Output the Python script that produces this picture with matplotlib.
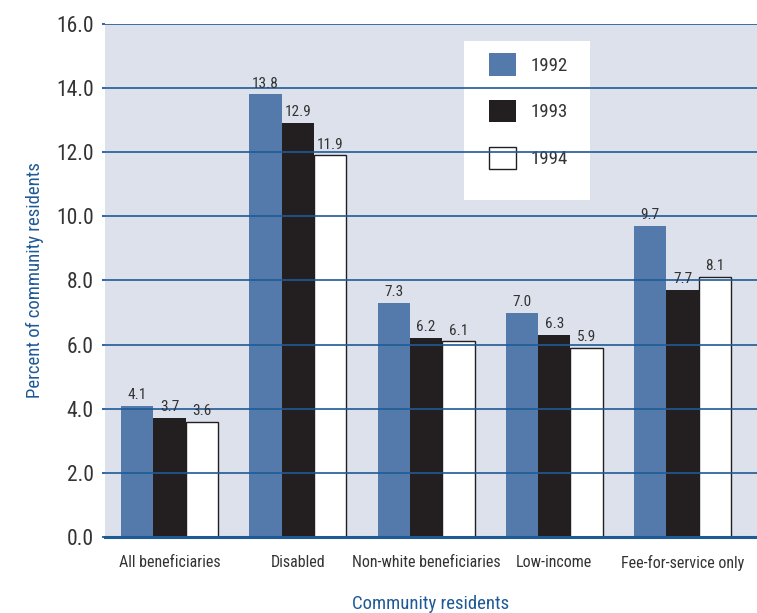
import matplotlib.pyplot as plt
import numpy as np
from matplotlib.patches import Rectangle

categories = ['All beneficiaries', 'Disabled', 'Non-white beneficiaries', 'Low-income', 'Fee-for-service only']
years = ['1992', '1993', '1994']
v1992 = [4.1, 13.8, 7.3, 7.0, 9.7]
v1993 = [3.7, 12.9, 6.2, 6.3, 7.7]
v1994 = [3.6, 11.9, 6.1, 5.9, 8.1]
yticks = [0, 2, 4, 6, 8, 10, 12, 14, 16]

plt.rcParams['font.family'] = ['Roboto Condensed', 'DejaVu Sans']

navy = '#1f5a96'
bg = '#dce1ec'
blue = '#5479ab'
black = '#231f20'
grey = '#333333'

fig = plt.figure(figsize=(7.57, 6.13), dpi=100)
ax = fig.add_axes([0.1387, 0.124, 0.8613, 0.837])
ax.set_facecolor(bg)

x = np.arange(len(categories))
w = 0.252
series = [(v1992, blue, 'none'), (v1993, black, 'none'), (v1994, 'white', black)]
for i, (vals, col, ec) in enumerate(series):
	bars = ax.bar(x + (i - 1) * w, vals, w, color=col, edgecolor=ec,
				  linewidth=1.0 if ec != 'none' else 0, label=years[i], zorder=1)
	for b, v in zip(bars, vals):
		ax.text(b.get_x() + b.get_width() / 2, v + 0.12, f'{v:.1f}',
				ha='center', va='bottom', fontsize=11, color=grey, zorder=4)

ax.set_xlim(-0.503, 4.58)
ax.set_ylim(0, 16)
ax.set_yticks(yticks)
ax.set_yticklabels([f'{t:.1f}' for t in yticks], fontsize=15.5, color=grey)
ax.set_xticks(x)
ax.set_xticklabels(categories, fontsize=11.5, color=grey)
ax.tick_params(axis='x', length=0, pad=13)
ax.tick_params(axis='y', length=2, width=1.3, color=navy, pad=6)

ax.set_axisbelow(False)
ax.yaxis.grid(True, color=navy, linewidth=1.2)
for s in ['top', 'right', 'left']:
	ax.spines[s].set_visible(False)
ax.spines['bottom'].set_color(navy)
ax.spines['bottom'].set_linewidth(2.2)
ax.spines['bottom'].set_zorder(3)

ax.set_ylabel('Percent of community residents', fontsize=13.5, color=navy, labelpad=9)
ax.set_xlabel('Community residents', fontsize=13.5, color=navy, labelpad=17)

# legend box sits under the gridlines
ax.add_patch(Rectangle((0.551, 0.657), 0.193, 0.31, transform=ax.transAxes,
					   facecolor='white', edgecolor='none', zorder=1.9))
leg = ax.legend(loc='upper left', bbox_to_anchor=(0.589, 0.9425), frameon=False,
				fontsize=13.5, handlelength=1.45, handleheight=1.45, labelspacing=1.3,
				handletextpad=0.75, borderpad=0, borderaxespad=0)
for t in leg.get_texts():
	t.set_color(grey)
leg.set_zorder(2)

fig.savefig('out.png', dpi=100)
